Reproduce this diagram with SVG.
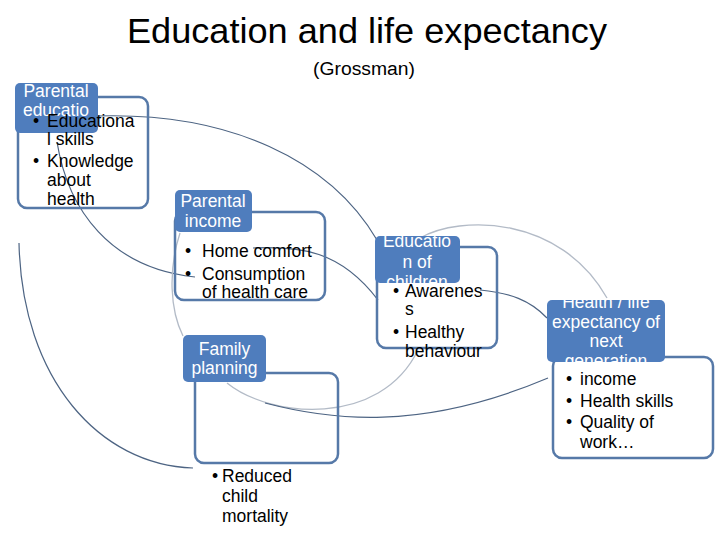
<svg xmlns="http://www.w3.org/2000/svg" width="720" height="540" viewBox="0 0 720 540">
<style>
.title{font-family:"Liberation Sans",Arial,sans-serif;fill:#000}
.lbl{fill:#4f7dbd}
.box{fill:none;stroke:#5679a8;stroke-width:2.5}
.lt{font-family:"Liberation Sans",Arial,sans-serif;font-size:17.5px;fill:#fff;text-anchor:middle}
.bt{font-family:"Liberation Sans",Arial,sans-serif;font-size:17.5px;fill:#000}
.dk{fill:none;stroke:#4d6483;stroke-width:1.2}
.li{fill:none;stroke:#b3bbc7;stroke-width:1.3}
</style>
<defs>
<clipPath id="c1"><rect x="15" y="83" width="83" height="50" rx="5"/></clipPath>
<clipPath id="c4"><rect x="375" y="236" width="85" height="47" rx="5"/></clipPath>
<clipPath id="c5"><rect x="547" y="300" width="118" height="62" rx="5"/></clipPath>
</defs>
<rect width="720" height="540" fill="#fff"/>
<text class="title" x="127" y="43" font-size="35" textLength="480" lengthAdjust="spacingAndGlyphs">Education and life expectancy</text>
<text class="title" x="313" y="75" font-size="18" textLength="102" lengthAdjust="spacingAndGlyphs">(Grossman)</text>

<g id="connectors">
<path class="dk" d="M97,116 C230,112 330,160 377,240"/>
<path class="dk" d="M253,248 C300,246 340,250 378,300"/>
<path class="dk" d="M57,142 C68,210 110,268 195,277"/>
<path class="dk" d="M19,243 C22,380 100,465 193,468"/>
<path class="li" d="M180,233 C168,270 170,310 183,336"/>
<path class="li" d="M227,383 C270,418 380,428 418,350"/>
<path class="dk" d="M265,403 C330,420 420,432 548,378"/>
<path class="li" d="M420,238 C460,215 560,215 607,298"/>
<path class="dk" d="M480,290 C510,293 530,300 547,318"/>
</g>

<g id="parental-education">
<rect class="box" x="18" y="97" width="130" height="111" rx="9"/>
<rect class="lbl" x="15" y="83" width="83" height="50" rx="5"/>
<g clip-path="url(#c1)">
<text class="lt" x="56" y="97">Parental</text>
<text class="lt" x="56" y="116">educatio</text>
</g>
<text class="bt" x="33" y="127">•</text>
<text class="bt" x="47" y="127">Educationa</text>
<text class="bt" x="47" y="145">l skills</text>
<text class="bt" x="33" y="167">•</text>
<text class="bt" x="47" y="167">Knowledge</text>
<text class="bt" x="47" y="186">about</text>
<text class="bt" x="47" y="205">health</text>
</g>

<g id="parental-income">
<rect class="box" x="175" y="212" width="150" height="88" rx="9"/>
<rect class="lbl" x="175" y="190" width="77" height="42" rx="5"/>
<text class="lt" x="213" y="207">Parental</text>
<text class="lt" x="213" y="227">income</text>
<text class="bt" x="185" y="257">•</text>
<text class="bt" x="202" y="257">Home comfort</text>
<text class="bt" x="185" y="280">•</text>
<text class="bt" x="202" y="280">Consumption</text>
<text class="bt" x="202" y="298">of health care</text>
</g>

<g id="family-planning">
<rect class="box" x="195" y="373" width="143" height="90" rx="9"/>
<rect class="lbl" x="183" y="335" width="83" height="47" rx="5"/>
<text class="lt" x="224.5" y="355">Family</text>
<text class="lt" x="224.5" y="374">planning</text>
<text class="bt" x="212" y="482">•</text>
<text class="bt" x="222" y="482">Reduced</text>
<text class="bt" x="222" y="502">child</text>
<text class="bt" x="222" y="522">mortality</text>
</g>

<g id="education-children">
<rect class="box" x="377" y="247" width="120" height="101" rx="9"/>
<rect class="lbl" x="375" y="236" width="85" height="47" rx="5"/>
<g clip-path="url(#c4)">
<text class="lt" x="417" y="247">Educatio</text>
<text class="lt" x="417" y="268">n of</text>
<text class="lt" x="417" y="288">children</text>
</g>
<text class="bt" x="393" y="297">•</text>
<text class="bt" x="405" y="297">Awarenes</text>
<text class="bt" x="405" y="315">s</text>
<text class="bt" x="393" y="338">•</text>
<text class="bt" x="405" y="338">Healthy</text>
<text class="bt" x="405" y="357">behaviour</text>
</g>

<g id="health-next-generation">
<rect class="box" x="553" y="357" width="160" height="101" rx="9"/>
<rect class="lbl" x="547" y="300" width="118" height="62" rx="5"/>
<g clip-path="url(#c5)">
<text class="lt" x="606" y="308">Health / life</text>
<text class="lt" x="606" y="328">expectancy of</text>
<text class="lt" x="606" y="347">next</text>
<text class="lt" x="606" y="367">generation</text>
</g>
<text class="bt" x="566" y="385">•</text>
<text class="bt" x="580" y="385">income</text>
<text class="bt" x="566" y="407">•</text>
<text class="bt" x="580" y="407">Health skills</text>
<text class="bt" x="566" y="428">•</text>
<text class="bt" x="580" y="428">Quality of</text>
<text class="bt" x="580" y="448">work…</text>
</g>
</svg>
